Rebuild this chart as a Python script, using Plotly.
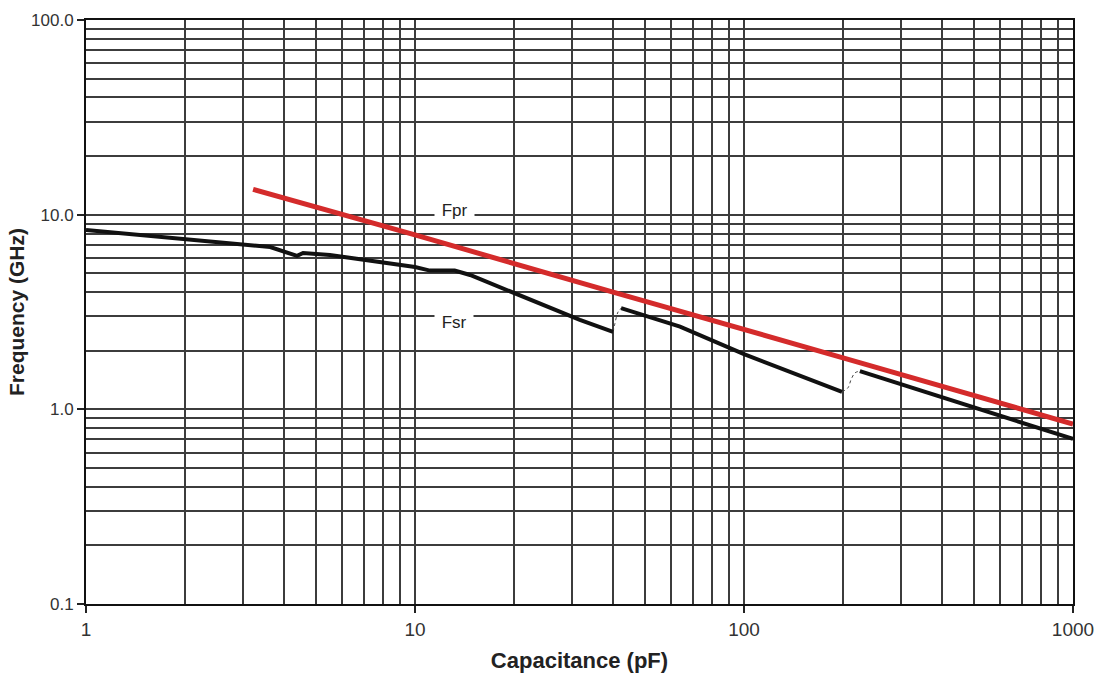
import plotly.graph_objects as go

# Fpr (parallel resonance) – red line
fpr_c = [3.22, 10, 40, 100, 200, 1000]
fpr_f = [13.5, 7.87, 4.0, 2.58, 1.84, 0.84]

# Fsr (series resonance) – black line, three segments
fsr1_c = [1.0, 2.2, 3.63, 4.38, 4.57, 5.51, 7.83, 10, 11.1, 13.2, 14.7, 20.1, 31.7, 40.0]
fsr1_f = [8.34, 7.33, 6.82, 6.14, 6.35, 6.21, 5.71, 5.38, 5.16, 5.16, 4.90, 3.96, 2.88, 2.50]
fsr2_c = [42.3, 63.9, 100, 198.6]
fsr2_f = [3.31, 2.66, 1.92, 1.23]
fsr3_c = [225, 453, 1000]
fsr3_f = [1.57, 1.08, 0.705]

# thin connectors between segments
con1_c = [40.0, 40.5, 41.4, 42.3]
con1_f = [2.50, 2.75, 3.16, 3.31]
con2_c = [198.6, 207, 211.5, 217.5, 225]
con2_f = [1.23, 1.29, 1.42, 1.54, 1.57]

x_ticks = [1, 10, 100, 1000]
x_labels = ["1", "10", "100", "1000"]
y_ticks = [0.1, 1, 10, 100]
y_labels = ["0.1", "1.0", "10.0", "100.0"]

SANS = "Liberation Sans, Arial, sans-serif"

fig = go.Figure()
for cx, fy in [(con1_c, con1_f), (con2_c, con2_f)]:
    fig.add_trace(go.Scatter(x=cx, y=fy, mode="lines",
                             line=dict(color="#444444", width=1, dash="dot", shape="spline"),
                             hoverinfo="skip", showlegend=False))
for cx, fy in [(fsr1_c, fsr1_f), (fsr2_c, fsr2_f), (fsr3_c, fsr3_f)]:
    fig.add_trace(go.Scatter(x=cx, y=fy, mode="lines",
                             line=dict(color="#111111", width=4),
                             name="Fsr", showlegend=False))
fig.add_trace(go.Scatter(x=fpr_c, y=fpr_f, mode="lines",
                         line=dict(color="#d42b2b", width=5),
                         name="Fpr", showlegend=False))

grid_col = "#3c3c3c"
fig.update_xaxes(
    type="log", range=[0, 3], automargin=False,
    tickvals=x_ticks, ticktext=x_labels,
    ticks="outside", ticklen=7, tickcolor="#222", tickwidth=1.5,
    tickfont=dict(family=SANS, size=19, color="#333"),
    showgrid=True, gridcolor=grid_col, gridwidth=1.5,
    minor=dict(dtick="D1", showgrid=True, gridcolor=grid_col, gridwidth=1.5, ticks=""),
    showline=True, linecolor="#111", linewidth=2, mirror=True,
    zeroline=False,
    title=dict(text="<b>Capacitance (pF)</b>", standoff=14,
               font=dict(family=SANS, size=22, color="#222")),
)
fig.update_yaxes(
    type="log", range=[-1, 2], automargin=False,
    tickvals=y_ticks, ticktext=y_labels,
    ticks="outside", ticklen=7, tickcolor="#222", tickwidth=1.5,
    tickfont=dict(family=SANS, size=17, color="#333"),
    showgrid=True, gridcolor=grid_col, gridwidth=1.5,
    minor=dict(dtick="D1", showgrid=True, gridcolor=grid_col, gridwidth=1.5, ticks=""),
    showline=True, linecolor="#111", linewidth=2, mirror=True,
    zeroline=False,
    title=dict(text="<b>Frequency (GHz)</b>", standoff=1,
               font=dict(family=SANS, size=21, color="#222")),
)

fig.add_annotation(x=1.12, y=1.0, xref="x", yref="y", text=" Fpr ",
                   showarrow=False, bgcolor="white", borderpad=2, yshift=4,
                   font=dict(family=SANS, size=17, color="#222"))
fig.add_annotation(x=1.12, y=0.477, xref="x", yref="y", text=" Fsr ",
                   showarrow=False, bgcolor="white", borderpad=2, yshift=-6,
                   font=dict(family=SANS, size=17, color="#222"))

fig.update_layout(
    width=1099, height=679,
    margin=dict(l=86, r=26, t=20, b=75),
    paper_bgcolor="white", plot_bgcolor="white",
)

fig.write_html(
    "out.html",
    config={"displayModeBar": False},
    post_script="document.body.style.margin='0';document.body.style.overflow='hidden';",
)
